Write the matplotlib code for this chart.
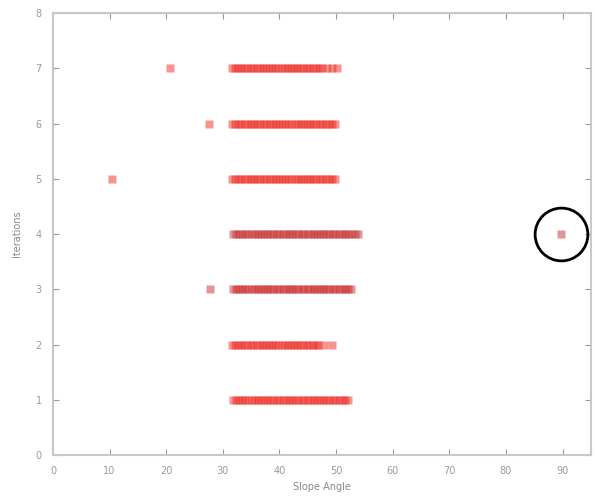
import numpy as np
import matplotlib.pyplot as plt

# slope angle readings for each iteration
angles_1 = [31.8, 32.3, 32.9, 33.4, 34.0, 34.5, 35.1, 35.6, 36.2, 36.7, 37.3, 37.8, 38.4, 38.9,
            39.5, 40.0, 40.6, 41.1, 41.7, 42.2, 42.8, 43.3, 43.9, 44.4, 45.0, 45.5, 46.1, 46.6,
            47.2, 47.7, 48.3, 48.8, 49.4, 49.9, 50.5, 51.0, 51.6, 52.1]
angles_2 = [31.6, 32.1, 32.7, 33.2, 33.8, 34.3, 34.9, 35.4, 36.0, 36.5, 37.1, 37.6, 38.2, 38.7,
            39.3, 39.8, 40.4, 40.9, 41.5, 42.0, 42.6, 43.1, 43.7, 44.2, 44.8, 45.3, 45.9, 46.4,
            46.9, 47.8, 49.2]
angles_3 = [31.8, 32.3, 32.9, 33.4, 34.0, 34.5, 35.1, 35.6, 36.2, 36.7, 37.3, 37.8, 38.4, 38.9,
            39.5, 40.0, 40.6, 41.1, 41.7, 42.2, 42.8, 43.3, 43.9, 44.4, 45.0, 45.5, 46.1, 46.6,
            47.2, 47.7, 48.3, 48.8, 49.4, 49.9, 50.5, 51.0, 51.6, 52.1, 52.7, 27.8]
angles_4 = [31.8, 32.3, 32.9, 33.4, 34.0, 34.5, 35.1, 35.6, 36.2, 36.7, 37.3, 37.8, 38.4, 38.9,
            39.5, 40.0, 40.6, 41.1, 41.7, 42.2, 42.8, 43.3, 43.9, 44.4, 45.0, 45.5, 46.1, 46.6,
            47.2, 47.7, 48.3, 48.8, 49.4, 49.9, 50.5, 51.0, 51.6, 52.1, 52.7, 53.3, 53.8, 89.8]
angles_5 = [31.7, 32.2, 32.8, 33.3, 33.9, 34.4, 35.0, 35.5, 36.1, 36.6, 37.2, 37.7, 38.3, 38.8,
            39.4, 39.9, 40.5, 41.0, 41.6, 42.1, 42.7, 43.2, 43.8, 44.3, 44.9, 45.4, 46.0, 46.5,
            47.1, 47.6, 48.2, 48.7, 49.3, 49.8, 10.4]
angles_6 = [31.7, 32.2, 32.8, 33.3, 33.9, 34.4, 35.0, 35.5, 36.1, 36.6, 37.2, 37.7, 38.3, 38.8,
            39.4, 39.9, 40.5, 41.0, 41.6, 42.1, 42.7, 43.2, 43.8, 44.3, 44.9, 45.4, 46.0, 46.5,
            47.1, 47.6, 48.2, 48.7, 49.3, 49.8, 27.5]
angles_7 = [31.6, 32.1, 32.7, 33.2, 33.8, 34.3, 34.9, 35.4, 36.0, 36.5, 37.1, 37.6, 38.2, 38.7,
            39.3, 39.8, 40.4, 40.9, 41.5, 42.0, 42.6, 43.1, 43.7, 44.2, 44.8, 45.3, 45.9, 46.4,
            47.0, 47.6, 48.4, 49.3, 50.2, 20.6]
rows = [angles_1, angles_2, angles_3, angles_4, angles_5, angles_6, angles_7]
row_colors = ["#ee2a22", "#ee2a22", "#cc2a2a", "#c42e2e", "#ee2a22", "#ee2a22", "#ee2a22"]

marked_point = (89.8, 4)

fig = plt.figure(figsize=(5.95, 5.04), dpi=100)
ax = fig.add_axes([0.089, 0.097, 0.904, 0.877])

for i, (vals, c) in enumerate(zip(rows, row_colors)):
    it = np.full(len(vals), i + 1)
    ax.plot(vals, it, "s", color=c, alpha=0.5, ms=5.5, mec="none")

ax.plot(*marked_point, "o", ms=38, mfc="none", mec="black", mew=2)

ax.set_xlim(0, 95)
ax.set_ylim(0, 8)
ax.set_xticks(np.arange(0, 100, 10))
ax.set_yticks(np.arange(0, 9, 1))
ax.tick_params(direction="in", length=4, labelsize=7, colors="#999999",
               top=True, right=True, pad=8)
for s in ax.spines.values():
    s.set_color("#c8c8c8")
    s.set_linewidth(1.5)
ax.set_xlabel("Slope Angle", fontsize=7, color="#888888")
ax.set_ylabel("Iterations", fontsize=7, color="#888888", labelpad=10)

plt.savefig("out.png")
